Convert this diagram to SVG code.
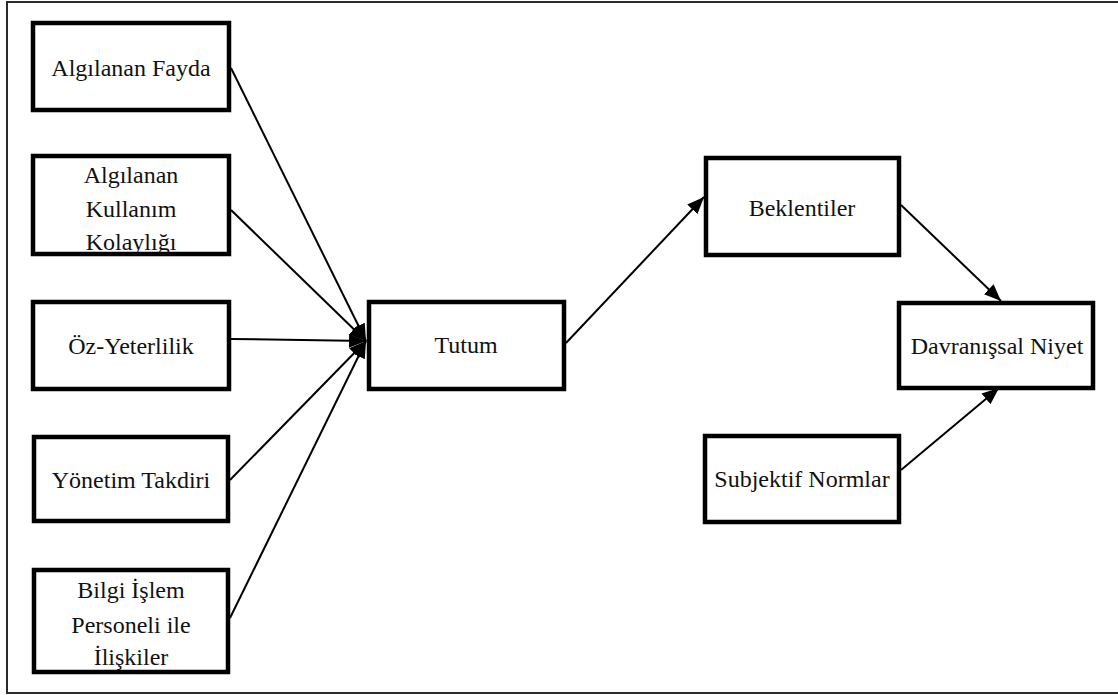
<svg xmlns="http://www.w3.org/2000/svg" width="1118" height="695" viewBox="0 0 1118 695">
  <style>
    .box { fill: #ffffff; stroke: #000000; stroke-width: 4.5; }
    .lbl { font-family: "Liberation Serif", "Times New Roman", serif; font-size: 24px; fill: #111111; text-anchor: middle; }
    .link { stroke: #000000; stroke-width: 2; fill: none; marker-end: url(#arrow); }
  </style>
  <defs>
    <marker id="arrow" markerUnits="userSpaceOnUse" markerWidth="18" markerHeight="15" refX="17" refY="7" orient="auto">
      <path d="M0,0 L17,7 L0,14 z" fill="#000000"/>
    </marker>
  </defs>

  <!-- page frame -->
  <rect x="7" y="2" width="1120" height="691" fill="#ffffff" stroke="#2b2b2b" stroke-width="2"/>

  <!-- connectors -->
  <g id="connectors">
    <line class="link" x1="231" y1="68" x2="366" y2="341"/>
    <line class="link" x1="231" y1="210" x2="366" y2="341"/>
    <line class="link" x1="231" y1="339" x2="366" y2="341"/>
    <line class="link" x1="230" y1="480" x2="366" y2="341"/>
    <line class="link" x1="230" y1="618" x2="366" y2="341"/>
    <line class="link" x1="566" y1="343" x2="704" y2="197"/>
    <line class="link" x1="901" y1="205" x2="1001" y2="301"/>
    <line class="link" x1="901" y1="470" x2="999" y2="388"/>
  </g>

  <g id="algilanan-fayda">
    <rect class="box" x="33" y="23" width="196" height="87"/>
    <text class="lbl" x="131" y="76">Algılanan Fayda</text>
  </g>

  <g id="algilanan-kullanim-kolayligi">
    <rect class="box" x="33" y="156" width="196" height="98"/>
    <text class="lbl" x="131" y="183">Algılanan</text>
    <text class="lbl" x="131" y="217">Kullanım</text>
    <text class="lbl" x="131" y="250">Kolaylığı</text>
  </g>

  <g id="oz-yeterlilik">
    <rect class="box" x="33" y="302" width="196" height="87"/>
    <text class="lbl" x="131" y="354">Öz-Yeterlilik</text>
  </g>

  <g id="yonetim-takdiri">
    <rect class="box" x="34" y="437" width="194" height="84"/>
    <text class="lbl" x="131" y="488">Yönetim Takdiri</text>
  </g>

  <g id="bilgi-islem">
    <rect class="box" x="34" y="570" width="194" height="102"/>
    <text class="lbl" x="131" y="598">Bilgi İşlem</text>
    <text class="lbl" x="131" y="633">Personeli ile</text>
    <text class="lbl" x="131" y="665">İlişkiler</text>
  </g>

  <g id="tutum">
    <rect class="box" x="369" y="302" width="195" height="87"/>
    <text class="lbl" x="466" y="353">Tutum</text>
  </g>

  <g id="beklentiler">
    <rect class="box" x="706" y="158" width="193" height="97"/>
    <text class="lbl" x="802" y="216">Beklentiler</text>
  </g>

  <g id="davranissal-niyet">
    <rect class="box" x="899" y="303" width="194" height="85"/>
    <text class="lbl" x="997" y="354">Davranışsal Niyet</text>
  </g>

  <g id="subjektif-normlar">
    <rect class="box" x="705" y="436" width="194" height="86"/>
    <text class="lbl" x="802" y="487">Subjektif Normlar</text>
  </g>
</svg>
